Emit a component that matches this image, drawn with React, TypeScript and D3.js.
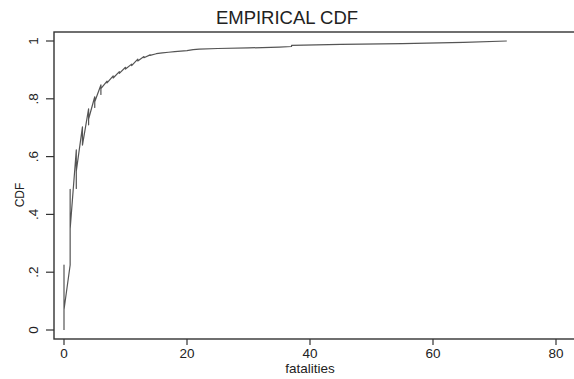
import * as d3 from "d3";

// empirical CDF of fatalities, in the order the points were drawn
// (ties are not sorted, so each integer value gets a little zigzag)
const fatal = [
  0, 0, 0,
  1, 1, 1,
  2, 2, 2,
  3, 3,
  4, 4, 4,
  5, 5, 5,
  6, 6, 6,
  7, 7,
  8, 8,
  9, 9,
  10, 10,
  11, 11,
  12, 12,
  13, 13,
  14, 14,
  15, 16, 17, 18, 19, 20, 21, 22,
  25, 30, 35, 37, 37, 45, 55, 65, 72,
];
const cdf = [
  0, 0.225, 0.07,
  0.225, 0.487, 0.35,
  0.623, 0.49, 0.55,
  0.703, 0.64,
  0.765, 0.71, 0.73,
  0.807, 0.77, 0.79,
  0.848, 0.815, 0.835,
  0.861, 0.855,
  0.879, 0.872,
  0.894, 0.888,
  0.909, 0.903,
  0.92, 0.915,
  0.937, 0.931,
  0.946, 0.942,
  0.952, 0.95,
  0.956, 0.959, 0.961, 0.963, 0.965, 0.967, 0.97, 0.972,
  0.974, 0.976, 0.979, 0.981, 0.985, 0.988, 0.991, 0.995, 1,
];

const xTicks = [0, 20, 40, 60, 80];
const yTicks = [0, 0.2, 0.4, 0.6, 0.8, 1];
const yTickLabels = ["0", ".2", ".4", ".6", ".8", "1"];

const W = 574;
const H = 379;
const font = "'Liberation Sans', Arial, sans-serif";
const ink = "#222";

export default function App() {
  const x = d3.scaleLinear().domain([0, 80]).range([64, 556]);
  const y = d3.scaleLinear().domain([0, 1]).range([330, 41]);
  const box = { left: 54, top: 32, right: 590, bottom: 339 };

  const line = d3.line<number>()
    .x((_, i) => x(fatal[i]))
    .y((d) => y(d));

  return (
    <svg width={W} height={H} style={{ position: "absolute", left: 0, top: 0, background: "#fff" }}>
      <text x={287} y={24} textAnchor="middle" fontFamily={font} fontSize={18.5} fill={ink}>
        EMPIRICAL CDF
      </text>

      <rect x={box.left} y={box.top} width={box.right - box.left} height={box.bottom - box.top}
        fill="none" stroke="#333" strokeWidth={1.4} />

      {yTicks.map((t, i) => (
        <g key={t}>
          <line x1={46} x2={box.left} y1={y(t)} y2={y(t)} stroke="#333" strokeWidth={1.2} />
          <text transform={`translate(33,${y(t)}) rotate(-90)`} textAnchor="middle" dy="0.36em"
            fontFamily={font} fontSize={13.5} fill={ink}>{yTickLabels[i]}</text>
        </g>
      ))}
      {xTicks.map((t) => (
        <g key={t}>
          <line x1={x(t)} x2={x(t)} y1={box.bottom} y2={345} stroke="#333" strokeWidth={1.2} />
          <text x={x(t)} y={358} textAnchor="middle" fontFamily={font} fontSize={13.5} fill={ink}>{t}</text>
        </g>
      ))}

      <text transform="translate(24,195) rotate(-90)" textAnchor="middle" fontFamily={font} fontSize={12} fill={ink}>
        CDF
      </text>
      <text x={310} y={373} textAnchor="middle" fontFamily={font} fontSize={13.5} fill={ink}>
        fatalities
      </text>

      <path d={line(cdf) ?? ""} fill="none" stroke="#555" strokeWidth={1.2} strokeLinejoin="round" />
    </svg>
  );
}
